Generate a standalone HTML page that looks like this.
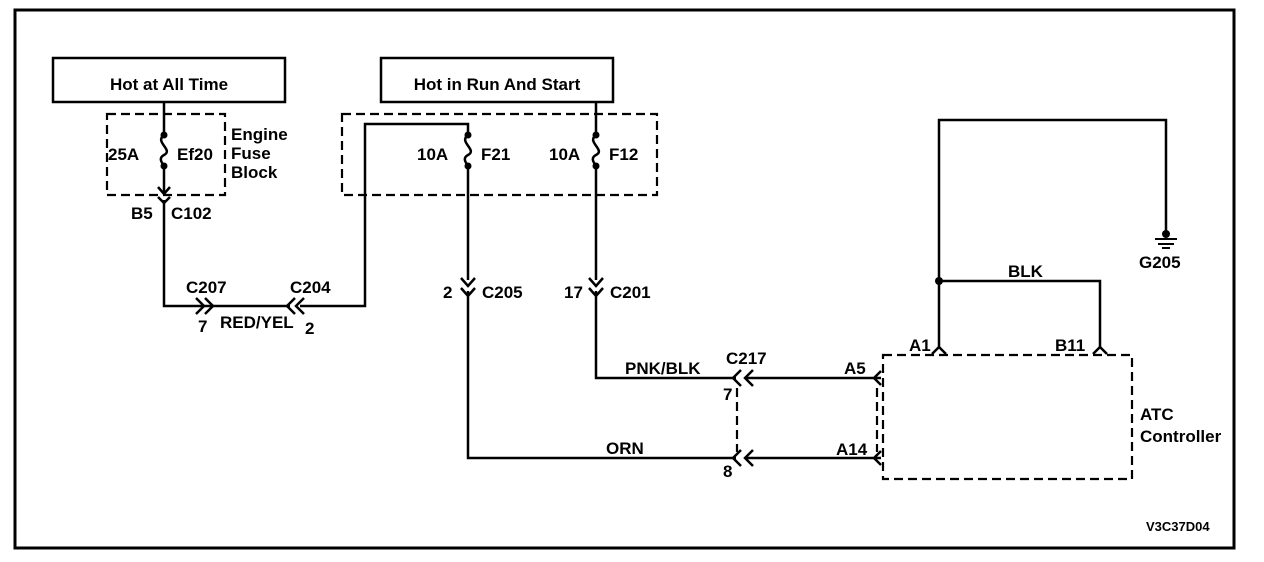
<!DOCTYPE html>
<html><head><meta charset="utf-8"><style>
html,body{margin:0;padding:0;background:#fff;}
svg{display:block;}
text{font-family:"Liberation Sans",Arial,sans-serif;font-size:17px;font-weight:bold;fill:#000;}
</style></head><body>
<svg width="1264" height="562" viewBox="0 0 1264 562" xmlns="http://www.w3.org/2000/svg">
<g fill="none" stroke="#000" stroke-width="2.5">
<rect x="15" y="10" width="1219" height="538" stroke-width="3"/>
<rect x="53" y="58" width="232" height="44"/>
<rect x="381" y="58" width="232" height="44"/>
<g stroke-dasharray="9,5" stroke-width="2.2">
<rect x="107" y="114" width="118" height="81"/>
<rect x="342" y="114" width="315" height="81"/>
<rect x="883" y="355" width="249" height="124"/>
<line x1="737" y1="388" x2="737" y2="452"/>
<line x1="877" y1="388" x2="877" y2="452"/>
</g>
<path d="M164 102 V135 M164 166 V193 M164 200 V306 H214 M158 187 L164 194 L170 187"/>
<path d="M164 135 C154 142,174 150,164 155 C158 158,162 163,164 166"/>
<path d="M158 197 L164 203 L170 197"/>
<path d="M196 298 L204 306 L196 314 M205 298 L213 306 L205 314"/>
<path d="M214 306 H290"/>
<path d="M295 298 L287 306 L295 314 M304 298 L296 306 L304 314"/>
<path d="M300 306 H365 V124 H468 V135"/>
<path d="M468 135 C458 142,478 150,468 155 C462 158,466 163,468 166"/>
<path d="M468 166 V280 M461 278 L468 286 L475 278 M461 288 L468 296 L475 288 M468 291 V458 H736"/>
<path d="M596 102 V135 M596 135 C586 142,606 150,596 155 C590 158,594 163,596 166"/>
<path d="M596 166 V280 M589 278 L596 286 L603 278 M589 288 L596 296 L603 288 M596 291 V378 H736"/>
<path d="M741 370 L733 378 L741 386 M753 370 L745 378 L753 386 M745 378 H881 M881 371 L874 378 L881 385"/>
<path d="M741 450 L733 458 L741 466 M753 450 L745 458 L753 466 M745 458 H881 M881 451 L874 458 L881 465"/>
<path d="M939 347 V120 H1166 V233"/>
<path d="M939 281 H1100 V347"/>
<path d="M932 354 L939 347 L946 354 M1093 354 L1100 347 L1107 354"/>
<path d="M1155 239 H1177 M1158 244 H1174 M1162 248 H1170" stroke-width="2"/>
</g>
<g fill="#000">
<circle cx="164" cy="135" r="3.5"/><circle cx="164" cy="166" r="3.5"/>
<circle cx="468" cy="135" r="3.5"/><circle cx="468" cy="166" r="3.5"/>
<circle cx="596" cy="135" r="3.5"/><circle cx="596" cy="166" r="3.5"/>
<circle cx="939" cy="281" r="4"/><circle cx="1166" cy="234" r="4"/>
</g>
<text x="169" y="90" text-anchor="middle">Hot at All Time</text>
<text x="497" y="90" text-anchor="middle">Hot in Run And Start</text>
<text x="108" y="160">25A</text><text x="177" y="160">Ef20</text>
<text x="231" y="140">Engine</text><text x="231" y="159">Fuse</text><text x="231" y="178">Block</text>
<text x="131" y="219">B5</text><text x="171" y="219">C102</text>
<text x="186" y="293">C207</text><text x="290" y="293">C204</text>
<text x="198" y="332">7</text><text x="220" y="328">RED/YEL</text><text x="305" y="334">2</text>
<text x="417" y="160">10A</text><text x="481" y="160">F21</text>
<text x="549" y="160">10A</text><text x="609" y="160">F12</text>
<text x="443" y="298">2</text><text x="482" y="298">C205</text>
<text x="564" y="298">17</text><text x="610" y="298">C201</text>
<text x="625" y="374">PNK/BLK</text><text x="726" y="364">C217</text>
<text x="723" y="400">7</text><text x="723" y="477">8</text>
<text x="606" y="454">ORN</text>
<text x="844" y="374">A5</text><text x="836" y="455">A14</text>
<text x="909" y="351">A1</text><text x="1055" y="351">B11</text>
<text x="1008" y="277">BLK</text>
<text x="1139" y="268">G205</text>
<text x="1140" y="420">ATC</text><text x="1140" y="442">Controller</text>
<text x="1146" y="531" style="font-size:13px">V3C37D04</text>
</svg>
</body></html>
